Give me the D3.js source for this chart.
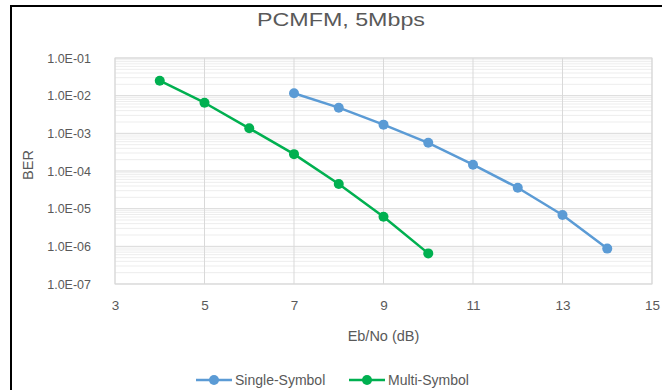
<!DOCTYPE html>
<html>
<head>
<meta charset="utf-8">
<script src="https://d3js.org/d3.v7.min.js"></script>
<style>
html,body{margin:0;padding:0;background:#fff;}
svg{display:block;}
text{font-family:"Liberation Sans Narrow","Liberation Sans",Arial,sans-serif;fill:#595959;}
</style>
</head>
<body>
<svg id="chart" width="662" height="390"></svg>
<script>
const title = "PCMFM, 5Mbps";
const xTitle = "Eb/No (dB)";
const yTitle = "BER";
const xTicks = [3, 5, 7, 9, 11, 13, 15];
const yTicks = [1e-1, 1e-2, 1e-3, 1e-4, 1e-5, 1e-6, 1e-7];
const yTickLabels = ["1.0E-01","1.0E-02","1.0E-03","1.0E-04","1.0E-05","1.0E-06","1.0E-07"];
const seriesNames = ["Single-Symbol", "Multi-Symbol"];
const seriesColors = ["#5B9BD5", "#00B050"];
const singleX = [7, 8, 9, 10, 11, 12, 13, 14];
const singleY = [1.16e-2, 4.8e-3, 1.7e-3, 5.6e-4, 1.47e-4, 3.6e-5, 6.8e-6, 8.7e-7];
const multiX = [4, 5, 6, 7, 8, 9, 10];
const multiY = [2.5e-2, 6.5e-3, 1.36e-3, 2.8e-4, 4.5e-5, 6.1e-6, 6.5e-7];

const svg = d3.select("#chart");
const L = 115, R = 652, T = 58, B = 284;
const x = d3.scaleLinear().domain([3, 15]).range([L, R]);
const y = d3.scaleLog().domain([1e-7, 1e-1]).range([B, T]);

// outer frame (black, cropped)
svg.append("path").attr("d", "M11,400 L11,6 L680,6")
  .attr("fill", "none").attr("stroke", "#000").attr("stroke-width", 2);

// minor gridlines
const minor = [];
for (let e = -7; e < -1; e++) for (let m = 2; m <= 9; m++) minor.push(m * Math.pow(10, e));
svg.append("g").selectAll("line").data(minor).join("line")
  .attr("x1", L).attr("x2", R).attr("y1", d => y(d)).attr("y2", d => y(d))
  .attr("stroke", "#EDEDED").attr("stroke-width", 1);

// major gridlines
svg.append("g").selectAll("line").data(yTicks).join("line")
  .attr("x1", L).attr("x2", R).attr("y1", d => y(d)).attr("y2", d => y(d))
  .attr("stroke", "#D9D9D9").attr("stroke-width", 1);
svg.append("g").selectAll("line").data(xTicks).join("line")
  .attr("x1", d => x(d)).attr("x2", d => x(d)).attr("y1", T).attr("y2", B)
  .attr("stroke", "#D9D9D9").attr("stroke-width", 1);
svg.append("rect").attr("x", L).attr("y", T).attr("width", R - L).attr("height", B - T)
  .attr("fill", "none").attr("stroke", "#D9D9D9").attr("stroke-width", 1);

// axes using d3 axis generators (labels only)
const yAxis = d3.axisLeft(y).tickValues(yTicks).tickSize(0).tickPadding(24)
  .tickFormat((d, i) => yTickLabels[i]);
const gy = svg.append("g").attr("transform", `translate(${L},0)`).call(yAxis);
gy.select(".domain").remove();
gy.selectAll("text").attr("font-size", 12.5).attr("fill", "#595959")
  .style("font-family", '"Liberation Sans Narrow","Liberation Sans",Arial,sans-serif');

const xAxis = d3.axisBottom(x).tickValues(xTicks).tickSize(0).tickPadding(16);
const gx = svg.append("g").attr("transform", `translate(0,${B})`).call(xAxis);
gx.select(".domain").remove();
gx.selectAll("text").attr("font-size", 13.5).attr("fill", "#595959")
  .style("font-family", '"Liberation Sans Narrow","Liberation Sans",Arial,sans-serif');

// title
svg.append("text").attr("x", 341).attr("y", 26).attr("text-anchor", "middle")
  .attr("font-size", 18).attr("textLength", 168).attr("lengthAdjust", "spacingAndGlyphs")
  .style("font-family", '"Liberation Sans",Arial,sans-serif')
  .text(title);

svg.append("text").attr("x", (L + R) / 2).attr("y", 341).attr("text-anchor", "middle")
  .attr("font-size", 14.5).text(xTitle);
svg.append("text").attr("transform", `translate(33,165) rotate(-90)`).attr("text-anchor", "middle")
  .attr("font-size", 14.5).text(yTitle);

// series
const series = [
  {name: seriesNames[0], color: seriesColors[0], xs: singleX, ys: singleY},
  {name: seriesNames[1], color: seriesColors[1], xs: multiX, ys: multiY}
];
const line = d3.line().x(d => x(d[0])).y(d => y(d[1]));
series.forEach(s => {
  const pts = s.xs.map((v, i) => [v, s.ys[i]]);
  svg.append("path").datum(pts).attr("d", line).attr("fill", "none")
    .attr("stroke", s.color).attr("stroke-width", 2.5).attr("stroke-linejoin", "round");
  svg.append("g").selectAll("circle").data(pts).join("circle")
    .attr("cx", d => x(d[0])).attr("cy", d => y(d[1])).attr("r", 5)
    .attr("fill", s.color);
});

// legend
const legendY = 380;
const legendItems = [{x0: 196}, {x0: 349}];
series.forEach((s, i) => {
  const x0 = legendItems[i].x0;
  svg.append("line").attr("x1", x0).attr("x2", x0 + 36).attr("y1", legendY).attr("y2", legendY)
    .attr("stroke", s.color).attr("stroke-width", 2.5);
  svg.append("circle").attr("cx", x0 + 18).attr("cy", legendY).attr("r", 5).attr("fill", s.color);
  svg.append("text").attr("x", x0 + 39).attr("y", legendY + 5).attr("font-size", 14)
    .text(s.name);
});
</script>
</body>
</html>
